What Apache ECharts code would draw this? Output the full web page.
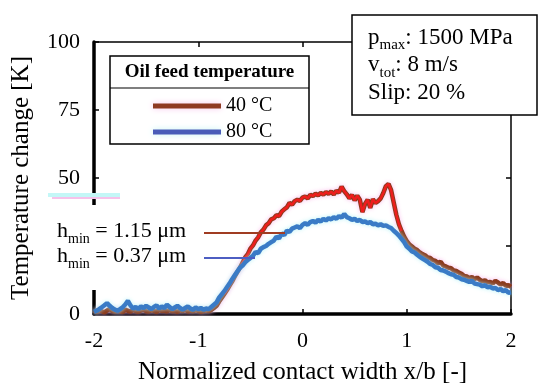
<!DOCTYPE html>
<html><head><meta charset="utf-8">
<script src="https://cdn.jsdelivr.net/npm/echarts@6/dist/echarts.min.js"></script>
<style>html,body{margin:0;padding:0;background:#fff}#c{width:550px;height:392px}</style>
</head><body><div id="c"></div>
<script>
// Normalized contact width x/b sample positions
const xPositions = [
-2,-1.975,-1.95,-1.925,-1.9,-1.875,-1.85,-1.825,-1.8,-1.775,
-1.75,-1.725,-1.7,-1.675,-1.65,-1.625,-1.6,-1.575,-1.55,-1.525,
-1.5,-1.475,-1.45,-1.425,-1.4,-1.375,-1.35,-1.325,-1.3,-1.275,
-1.25,-1.225,-1.2,-1.175,-1.15,-1.125,-1.1,-1.075,-1.05,-1.025,
-1,-0.975,-0.95,-0.925,-0.9,-0.875,-0.85,-0.825,-0.8,-0.775,
-0.75,-0.725,-0.7,-0.675,-0.65,-0.625,-0.6,-0.575,-0.55,-0.525,
-0.5,-0.475,-0.45,-0.425,-0.4,-0.375,-0.35,-0.325,-0.3,-0.275,
-0.25,-0.225,-0.2,-0.175,-0.15,-0.125,-0.1,-0.075,-0.05,-0.025,
0,0.025,0.05,0.075,0.1,0.125,0.15,0.175,0.2,0.225,
0.25,0.275,0.3,0.325,0.35,0.375,0.4,0.425,0.45,0.475,
0.5,0.525,0.55,0.575,0.6,0.625,0.65,0.675,0.7,0.725,
0.75,0.775,0.8,0.825,0.85,0.875,0.9,0.925,0.95,0.975,
1,1.025,1.05,1.075,1.1,1.125,1.15,1.175,1.2,1.225,
1.25,1.275,1.3,1.325,1.35,1.375,1.4,1.425,1.45,1.475,
1.5,1.525,1.55,1.575,1.6,1.625,1.65,1.675,1.7,1.725,
1.75,1.775,1.8,1.825,1.85,1.875,1.9,1.925,1.95,1.975,
2];
// Temperature change [K], oil feed 40 °C (h_min = 1.15 µm)
const temp40 = [
1.2,0.8,1.5,1.0,0.6,1.3,1.8,1.1,0.9,1.4,
1.0,0.7,1.6,1.2,0.9,1.5,1.1,0.8,1.3,1.7,
1.0,0.9,1.4,1.2,0.8,1.5,1.1,1.3,0.9,1.6,
1.0,1.2,0.8,1.4,1.1,1.7,0.9,1.3,1.0,1.5,
1.2,0.8,1.1,1.4,1.0,1.5,2.2,3.0,4.6,6.0,
7.4,8.8,10.4,12.0,13.8,15.5,17.0,18.8,20.8,22.0,
24.0,25.2,27.0,28.2,30.0,31.0,32.6,33.4,34.8,35.2,
36.3,36.0,37.6,38.5,39.2,40.8,40.2,41.5,42.0,41.6,
42.8,43.2,42.5,43.8,43.4,44.2,43.6,44.5,43.9,44.8,
44.2,45.0,44.0,45.3,44.6,46.8,45.2,44.0,42.5,43.8,
41.8,43.5,42.0,37.5,40.5,42.0,39.0,42.2,40.8,41.5,
42.5,44.5,47.0,47.8,45.5,41.0,36.5,33.0,30.5,28.4,
26.8,25.6,24.8,24.0,23.5,22.6,22.0,21.6,20.8,20.6,
19.8,19.5,18.6,19.2,17.8,17.5,17.0,16.8,16.0,15.8,
15.2,14.8,14.0,13.8,13.2,13.6,12.8,13.4,12.6,12.0,
12.4,11.6,11.8,11.2,12.2,11.6,10.8,11.4,10.4,10.6,
10.0];
// Temperature change [K], oil feed 80 °C (h_min = 0.37 µm)
const temp80 = [
0.8,1.2,1.8,2.5,3.2,4.0,3.0,2.2,1.6,1.2,
1.8,2.5,3.5,4.8,3.2,2.0,2.6,1.8,2.8,2.2,
3.0,2.4,1.8,2.6,3.2,2.0,2.8,2.2,3.4,2.6,
1.8,2.4,3.0,2.2,1.6,2.2,2.8,2.0,1.6,2.4,
1.8,2.2,1.6,2.0,1.8,2.6,3.4,4.2,6.0,7.2,
8.4,9.8,11.2,12.8,14.2,15.6,17.0,17.8,19.0,19.8,
20.6,21.4,22.8,22.4,24.0,24.6,25.0,25.8,26.4,27.0,
28.4,27.8,29.6,29.0,30.6,30.2,31.4,31.8,32.2,31.6,
32.8,33.4,32.8,33.8,34.2,33.6,34.6,34.0,35.0,34.4,
35.2,34.8,35.6,35.0,36.0,35.4,36.8,35.6,35.2,34.6,
35.0,34.2,34.6,33.8,34.0,33.4,33.8,33.0,33.2,32.6,
33.0,32.4,32.6,32.0,31.6,30.6,29.8,28.8,27.6,26.4,
24.8,24.0,23.0,22.6,21.8,21.0,20.4,19.8,19.2,18.4,
18.0,17.2,17.0,16.2,16.0,15.6,15.0,14.6,14.4,13.6,
13.4,12.8,12.6,12.2,11.8,12.2,11.2,11.0,10.8,10.2,
10.6,9.8,10.0,9.4,9.6,8.8,9.2,8.4,8.8,7.8,
8.0];
const seriesNames = ['40 °C', '80 °C'];
const legendTitle = 'Oil feed temperature';
const xRange = [-2, 2];
const yRange = [0, 100];
const xTitle = 'Normalized contact width x/b [-]';
const yTitle = 'Temperature change [K]';
const filmLabels = [['h', 'min', ' = 1.15 μm'], ['h', 'min', ' = 0.37 μm']];
const conditions = [['p', 'max', ': 1500 MPa'], ['v', 'tot', ': 8 m/s'], ['Slip: 20 %', '', '']];

const F = "'Liberation Serif','Times New Roman',serif";
const pairs = (xs, ys) => xs.map((x, i) => [x, ys[i]]);
const d40 = pairs(xPositions, temp40);
const d80 = pairs(xPositions, temp80);

function richLines(lines) {
  return lines.map(l => '{a|' + l[0] + '}' + (l[1] ? '{s|' + l[1] + '}' : '') + (l[2] ? '{a|' + l[2] + '}' : '')).join('\n');
}

const chart = echarts.init(document.getElementById('c'), null, {renderer: 'canvas'});
const axisCommon = {type: 'value', splitLine: {show: false}};
chart.setOption({
  animation: false,
  backgroundColor: '#fff',
  grid: {left: 94, right: 39, top: 42, bottom: 78},
  xAxis: [
    Object.assign({}, axisCommon, {
      min: xRange[0], max: xRange[1], interval: 1, position: 'bottom',
      axisLine: {onZero: false, lineStyle: {color: '#000', width: 3.5}},
      axisTick: {inside: true, length: 5, lineStyle: {color: '#000', width: 1.5}},
      axisLabel: {fontSize: 22, color: '#000', fontFamily: F, margin: 16},
      name: xTitle, nameLocation: 'middle', nameGap: 46,
      nameTextStyle: {fontSize: 25, color: '#000', fontFamily: F}
    }),
    Object.assign({}, axisCommon, {
      min: xRange[0], max: xRange[1], interval: 1, position: 'top',
      axisLine: {onZero: false, lineStyle: {color: '#000', width: 1.5}},
      axisTick: {inside: true, length: 5, lineStyle: {color: '#000', width: 1.5}},
      axisLabel: {show: false}
    })
  ],
  yAxis: [
    Object.assign({}, axisCommon, {
      min: yRange[0], max: yRange[1], interval: 25, position: 'left',
      axisLine: {show: true, onZero: false, lineStyle: {color: '#000', width: 3.5}},
      axisTick: {show: true, inside: true, length: 5, lineStyle: {color: '#000', width: 1.5}},
      axisLabel: {fontSize: 22, color: '#000', fontFamily: F, margin: 14},
      name: yTitle, nameLocation: 'middle', nameGap: 60, nameRotate: 90,
      nameTextStyle: {fontSize: 25, color: '#000', fontFamily: F}
    }),
    Object.assign({}, axisCommon, {
      min: yRange[0], max: yRange[1], interval: 25, position: 'right',
      axisLine: {show: true, onZero: false, lineStyle: {color: '#000', width: 1.5}},
      axisTick: {show: true, inside: true, length: 5, lineStyle: {color: '#000', width: 1.5}},
      axisLabel: {show: false}
    })
  ],
  legend: {
    orient: 'vertical', left: 148, top: 91, itemWidth: 68, itemHeight: 5, itemGap: 6,
    icon: 'rect', z: 20,
    textStyle: {fontSize: 20, color: '#000', fontFamily: F},
    data: [
      {name: seriesNames[0], itemStyle: {color: '#8E3B22', shadowColor: '#F7C6EC', shadowBlur: 6}},
      {name: seriesNames[1], itemStyle: {color: '#4A5CB8', shadowColor: '#C6F4F4', shadowBlur: 6}}
    ]
  },
  series: [
    {name: seriesNames[0], type: 'line', data: d40, showSymbol: false, z: 2,
     lineStyle: {color: '#8B3A1C', width: 4.5, shadowColor: 'rgba(250,170,230,0.8)', shadowBlur: 4},
     itemStyle: {color: '#8B3A1C'}},
    {name: 'core40', type: 'line', data: d40.slice(50, 119), showSymbol: false, z: 3,
     lineStyle: {color: '#EE1D1D', width: 2.5}, itemStyle: {color: '#EE1D1D'}},
    {name: seriesNames[1], type: 'line', data: d80, showSymbol: false, z: 4,
     lineStyle: {color: '#3A7BC6', width: 4.5, shadowColor: 'rgba(170,240,245,0.8)', shadowBlur: 4},
     itemStyle: {color: '#3A7BC6'}}
  ],
  graphic: [
    // artifacts near y-axis
    {type: 'rect', z: 50, shape: {x: 48, y: 193, width: 72, height: 4}, style: {fill: '#C4F7F7'}},
    {type: 'rect', z: 50, shape: {x: 52, y: 197, width: 68, height: 2}, style: {fill: '#F6C2EA'}},
    // white label area for film thickness
    {type: 'rect', z: 60, shape: {x: 45, y: 205, width: 158, height: 85}, style: {fill: '#fff'}},
    {type: 'line', z: 61, shape: {x1: 204, y1: 233, x2: 285, y2: 233}, style: {stroke: '#A03C22', lineWidth: 2}},
    {type: 'line', z: 61, shape: {x1: 204, y1: 258, x2: 255, y2: 258}, style: {stroke: '#4D5EC2', lineWidth: 2}},
    {type: 'text', z: 62, x: 57, y: 220.5, style: {
      text: richLines(filmLabels), verticalAlign: 'top', fill: '#000',
      rich: {
        a: {fontSize: 22, fontFamily: F, lineHeight: 25, verticalAlign: 'top', fill: '#000'},
        s: {fontSize: 14, fontFamily: F, lineHeight: 14, verticalAlign: 'top', padding: [12, 0, 0, 0], fill: '#000'}
      }}},
    // legend frame
    {type: 'rect', z: 10, shape: {x: 110, y: 56, width: 199, height: 88}, style: {fill: '#fff', stroke: '#000', lineWidth: 1.5}},
    {type: 'line', z: 11, shape: {x1: 110, y1: 88, x2: 309, y2: 88}, style: {stroke: '#000', lineWidth: 1.2}},
    {type: 'text', z: 12, x: 209.5, y: 72, style: {text: legendTitle, font: "bold 19px " + F, fill: '#000', align: 'center', verticalAlign: 'middle'}},
    // conditions box
    {type: 'rect', z: 70, shape: {x: 352, y: 15, width: 185, height: 100}, style: {fill: '#fff', stroke: '#000', lineWidth: 1.5}},
    {type: 'text', z: 71, x: 368, y: 26, style: {
      text: richLines(conditions), verticalAlign: 'top', fill: '#000',
      rich: {
        a: {fontSize: 23, fontFamily: F, lineHeight: 27.5, verticalAlign: 'top', fill: '#000'},
        s: {fontSize: 15, fontFamily: F, lineHeight: 15, verticalAlign: 'top', padding: [12, 0, 0, 0], fill: '#000'}
      }}}
  ]
});
</script></body></html>
